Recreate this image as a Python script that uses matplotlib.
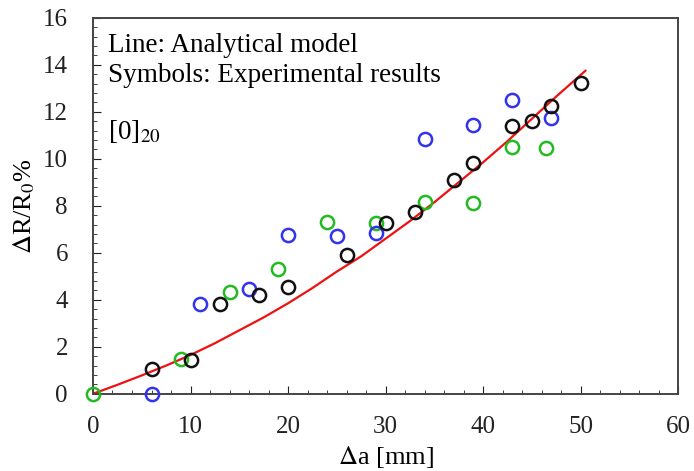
import matplotlib.pyplot as plt
from matplotlib.ticker import MultipleLocator

black_x = [6, 10, 13, 17, 20, 26, 30, 33, 37, 39, 43, 45, 47, 50]
black_y = [1.07, 1.45, 3.83, 4.22, 4.56, 5.90, 7.26, 7.75, 9.09, 9.83, 11.40, 11.61, 12.24, 13.23]

blue_x = [6, 11, 16, 20, 25, 29, 34, 39, 43, 47]
blue_y = [0.0, 3.82, 4.47, 6.74, 6.70, 6.84, 10.85, 11.45, 12.52, 11.74]

green_x = [0, 9, 14, 19, 24, 29, 34, 39, 43, 46.5]
green_y = [0.0, 1.48, 4.35, 5.33, 7.33, 7.29, 8.18, 8.12, 10.50, 10.46]

# analytical model curve
model_x = [0, 2.5, 5, 7.5, 10, 12.5, 15, 17.5, 20, 22.5, 25, 27.5, 30, 32.5, 35, 37.5, 40, 42.5, 45, 47.5, 50.5]
model_y = [0, 0.38, 0.78, 1.2, 1.65, 2.15, 2.7, 3.25, 3.85, 4.5, 5.2, 5.85, 6.6, 7.35, 8.15, 9.0, 9.85, 10.75, 11.7, 12.65, 13.75]

plt.rcParams['font.family'] = ['Liberation Serif', 'DejaVu Serif']
plt.rcParams['mathtext.fontset'] = 'stix'
fontsize = 19.5

fig, ax = plt.subplots(figsize=(6.94, 4.71), dpi=100)
fig.subplots_adjust(left=0.134, right=0.977, top=0.962, bottom=0.164)

ax.plot(model_x, model_y, color='#ee1111', lw=1.6, zorder=2)
ms = 9.5
ax.plot(green_x, green_y, 'o', mfc='none', mec='#22bb22', mew=1.8, ms=ms, zorder=3, clip_on=False)
ax.plot(blue_x, blue_y, 'o', mfc='none', mec='#3333ee', mew=1.8, ms=ms, zorder=3, clip_on=False)
ax.plot(black_x, black_y, 'o', mfc='none', mec='#111111', mew=1.8, ms=ms, zorder=4, clip_on=False)

ax.set_xlim(0, 60)
ax.set_ylim(0, 16)
ax.xaxis.set_major_locator(MultipleLocator(10))
ax.xaxis.set_minor_locator(MultipleLocator(2))
ax.yaxis.set_major_locator(MultipleLocator(2))
ax.yaxis.set_minor_locator(MultipleLocator(0.4))
ax.tick_params(which='both', direction='in', top=False, right=False, labelsize=18, colors='#222222')
ax.tick_params(which='major', length=6)
ax.tick_params(which='minor', length=3)
ax.tick_params(axis='x', which='major', pad=16)
ax.tick_params(axis='y', which='major', pad=18)
for s in ax.spines.values():
    s.set_color('#444444')
    s.set_linewidth(1.4)

ax.set_xlabel(r'$\Delta$a [mm]', fontsize=19, labelpad=4)
ax.set_ylabel(r'$\Delta$R/R$_0$%', fontsize=19, labelpad=4)

ax.text(0.026, 0.96, 'Line: Analytical model', transform=ax.transAxes, fontsize=fontsize, va='top')
ax.text(0.026, 0.88, 'Symbols: Experimental results', transform=ax.transAxes, fontsize=fontsize, va='top')
ax.text(0.026, 0.735, r'[0]$_{20}$', transform=ax.transAxes, fontsize=fontsize, va='top')

plt.savefig('out.png', dpi=100)
